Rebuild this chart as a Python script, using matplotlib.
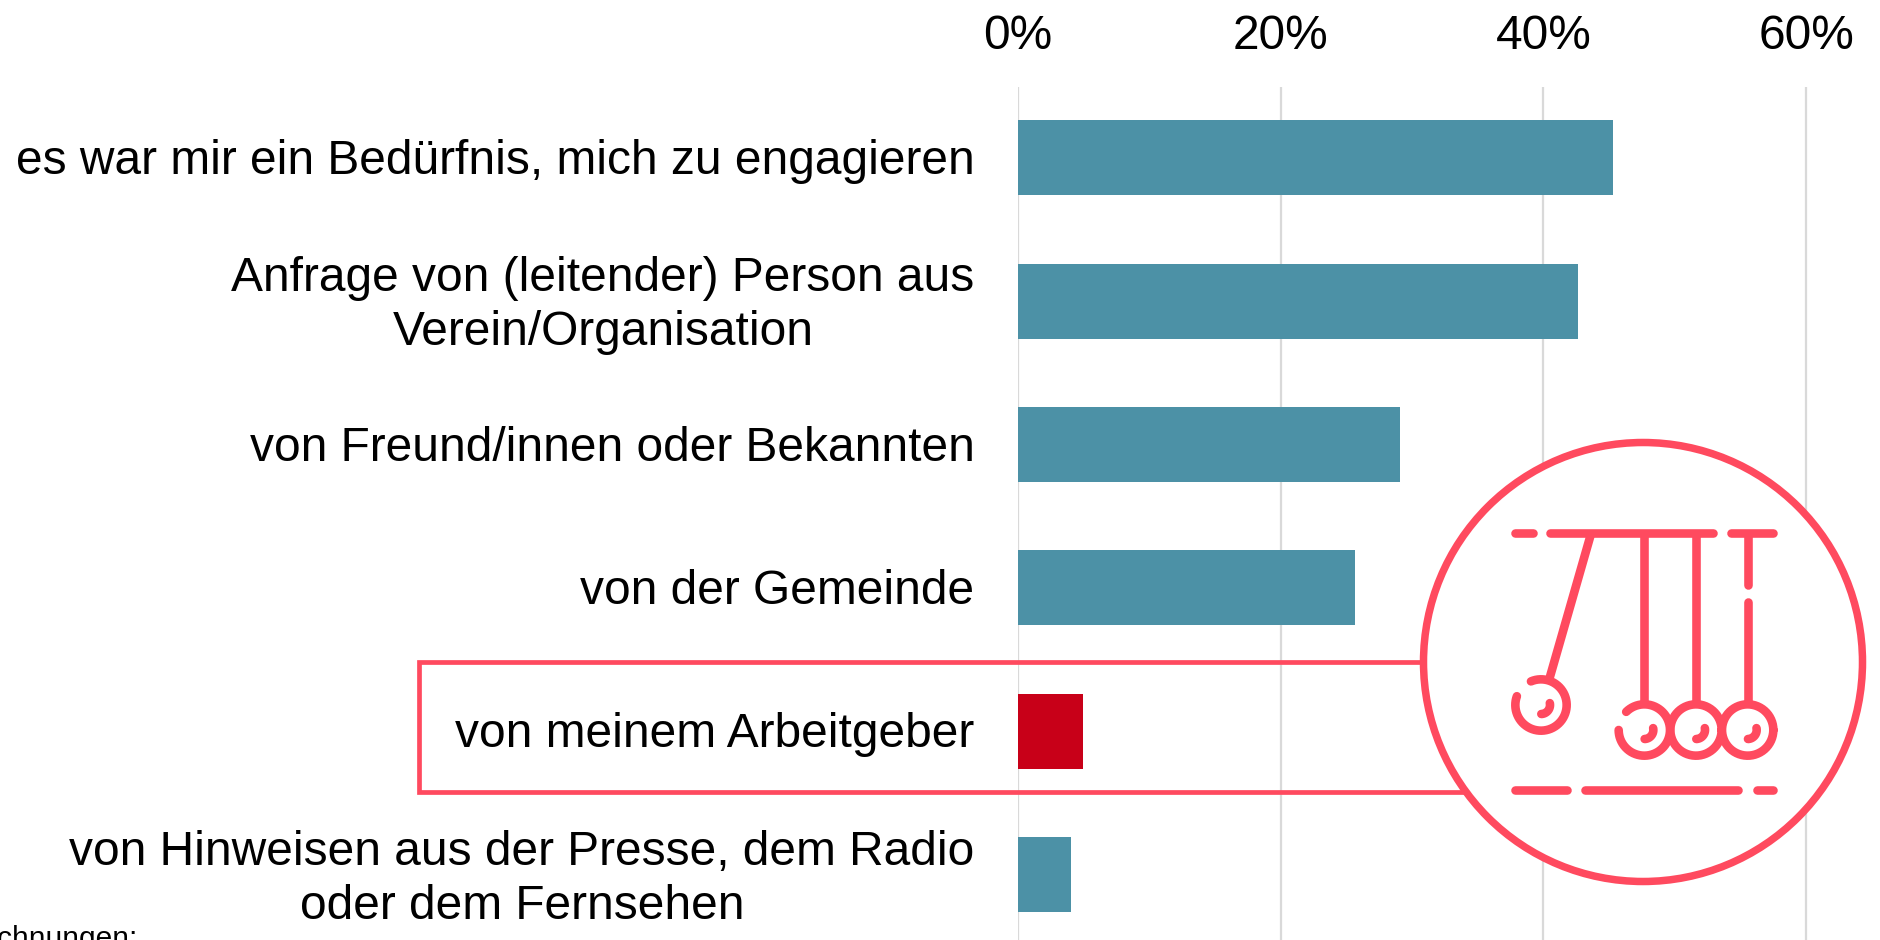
import numpy as np
import matplotlib
matplotlib.use("Agg")
import matplotlib.pyplot as plt
from matplotlib.patches import Circle, Rectangle
from matplotlib.transforms import ScaledTranslation

plt.rcParams['font.family'] = ['Liberation Sans', 'DejaVu Sans']

# Data
categories = [
    "es war mir ein Bedürfnis, mich zu engagieren",
    "Anfrage von (leitender) Person aus\nVerein/Organisation",
    "von Freund/innen oder Bekannten",
    "von der Gemeinde",
    "von meinem Arbeitgeber",
    "von Hinweisen aus der Presse, dem Radio\noder dem Fernsehen",
]
values = [45.3, 42.6, 29.05, 25.7, 4.95, 4.05]
highlight = "von meinem Arbeitgeber"
x_ticks = [0, 20, 40, 60]
x_tick_labels = ["0%", "20%", "40%", "60%"]

TEAL = "#4C91A6"
RED = "#C80018"
PINK = "#FF4A5F"
W, H = 1881, 940

fig = plt.figure(figsize=(W / 100, H / 100), dpi=100, facecolor="white")

# Chart axes, 0% sits at x=1018 and the gridlines start at y=87
ax = fig.add_axes([1017.5 / W, 0, (W - 1017.5) / W, (H - 87) / H])
colors = [RED if c == highlight else TEAL for c in categories]
ax.barh(range(len(values)), values, height=0.523, color=colors, zorder=3)
ax.set_xlim(0, (W - 1017.5) / 13.15)
ax.set_ylim(5.457, -0.495)
ax.set_xticks(x_ticks)
ax.set_xticklabels(x_tick_labels, fontsize=34.5)
ax.set_yticks(range(len(categories)))
ax.set_yticklabels(categories, fontsize=34.5, multialignment="center", linespacing=1.26)
ax.xaxis.tick_top()
ax.tick_params(axis="x", length=0, pad=20)
ax.tick_params(axis="y", length=0, pad=31)
ax.grid(axis="x", color="#D9D9D9", linewidth=1.6, zorder=0)
ax.set_axisbelow(True)
for s in ax.spines.values():
    s.set_visible(False)

# Nudge the labels up a little, two line labels sit higher in the reference
for label in ax.get_yticklabels():
    shift = 5 if "\n" in label.get_text() else 1.5
    label.set_transform(label.get_transform() + ScaledTranslation(0, shift / 100, fig.dpi_scale_trans))

# Overlay in pixel coordinates for the highlight box and the icon
ov = fig.add_axes([0, 0, 1, 1], facecolor="none")
ov.set_xlim(0, W)
ov.set_ylim(H, 0)
ov.axis("off")

ov.add_patch(Rectangle((419, 662), 1643 - 419, 130, fill=False, edgecolor=PINK, linewidth=3.4, zorder=2))
ov.add_patch(Circle((1643, 662), 219.5, facecolor="white", edgecolor=PINK, linewidth=5.4, zorder=3))


def zx(v):
    return 1400 + v / 3


def zy(v):
    return 420 + v / 3


def stroke(xs, ys):
    ov.plot(zx(np.array(xs)), zy(np.array(ys)), color=PINK, linewidth=6.2,
            solid_capstyle="round", zorder=4)


def arc(cx, cy, r, a0, a1):
    t = np.radians(np.linspace(a0, a1, 60))
    stroke(cx + r * np.cos(t), cy - r * np.sin(t))


# Newton's cradle icon
for x0, x1 in [(345, 400), (450, 940), (993, 1120)]:
    stroke([x0, x1], [338, 338])
for x0, x1 in [(345, 500), (555, 1015), (1070, 1120)]:
    stroke([x0, x1], [1110, 1110])
stroke([572, 450], [345, 770])
stroke([733, 733], [345, 845])
stroke([888, 888], [345, 845])
stroke([1043, 1043], [345, 495])
stroke([1043, 1043], [545, 845])

arc(423, 855, 77, 160, 360 + 113)
arc(733, 930, 77, 180, 360 + 135)
arc(888, 930, 77, 0, 360)
arc(1043, 930, 77, 0, 360)
for cx, cy in [(423, 855), (733, 930), (888, 930), (1043, 930)]:
    arc(cx, cy, 27, -88, 12)

# Source line, cut off by the lower edge
fig.text(138 / W, 1 - 947 / H, "Berechnungen:", fontsize=21.5, ha="right", va="baseline")

fig.savefig("out.png", dpi=100, facecolor="white")
